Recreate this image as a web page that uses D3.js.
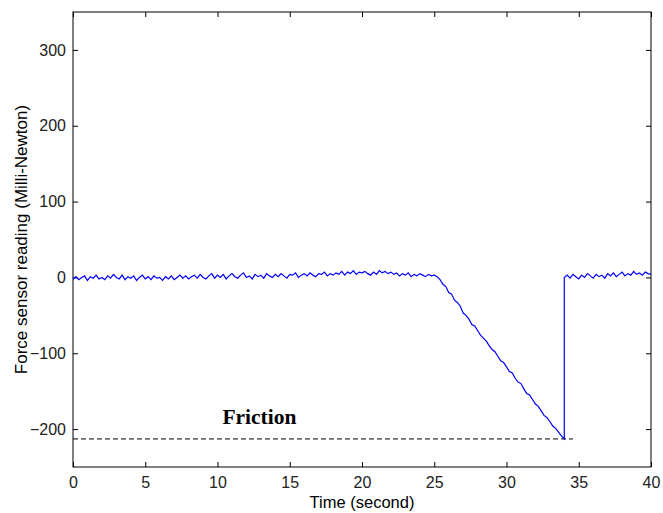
<!DOCTYPE html>
<html>
<head>
<meta charset="utf-8">
<script src="https://cdn.jsdelivr.net/npm/d3@7"></script>
<style>
  body { margin: 0; background: #fff; }
  .axis text { font-family: "Liberation Sans", Arial, sans-serif; font-size: 16px; fill: #222; }
  .axis path, .axis line { stroke: #000; }
</style>
</head>
<body>
<svg id="chart"></svg>
<script>
// sample step in seconds
const step = 0.2

// resting before push, t = 0 .. 25.2
const flat1Start = 0
const flat1 = [
  -2, 1, -3, 0, 2, -4, 1, -1, 3, -2, 0,
  -3, 2, -1, 4, 0, -2, 3, -3, 1, -1,
  2, -4, 0, 3, -2, 1, -3, 2, -1, 0,
  -4, 1, -2, 2, -3, 0, 3, -1, 2, -2,
  1, 3, -1, 4, 0, -2, 2, 5, -1, 3,
  0, 4, -2, 2, 5, 1, -1, 3, 6, 0,
  2, -2, 4, 1, 3, -1, 5, 2, 0, 4,
  1, 5, 2, -1, 4, 3, 6, 0, 3, 5,
  2, 6, 3, 1, 5, 4, 7, 2, 5, 3,
  6, 4, 8, 3, 7, 5, 9, 4, 7, 6,
  8, 5, 3, 7, 4, 9, 6, 8, 5, 7,
  4, 6, 2, 5, 3, 6, 1, 4, 2, 5,
  3, 1, 4, 2, 3, 1
]

// loading ramp, t = 25.4 .. 34.0
const rampStart = 25.4
const ramp = [
  -3, -9, -12, -20, -22, -30, -33, -38, -47, -50,
  -55, -62, -64, -70, -76, -80, -84, -90, -95, -98,
  -104, -110, -112, -118, -124, -126, -133, -138, -140, -147,
  -153, -155, -161, -167, -170, -176, -182, -185, -190, -196,
  -199, -204, -209, -213
]

// after slip, t = 34.0 .. 40.0
const flat2Start = 34.0
const flat2 = [
  0, 3, -1, 4, 1, -2, 3, 0, 5, 2,
  -1, 4, 1, 3, -1, 5, 2, 6, 1, 4,
  7, 2, 5, 3, 8, 4, 6, 3, 7, 5, 4
]

const frictionLevel = -213
const frictionEnd = 34.6

const xTicks = [0, 5, 10, 15, 20, 25, 30, 35, 40]
const yTicks = [-200, -100, 0, 100, 200, 300]

const W = 663, H = 513
const margin = {top: 12, right: 12, bottom: 46, left: 73}

const toPoints = (start, vals) => vals.map((v, i) => [start + i * step, v])
const series = [].concat(toPoints(flat1Start, flat1), toPoints(rampStart, ramp), toPoints(flat2Start, flat2))

const svg = d3.select('#chart').attr('width', W).attr('height', H)

const x = d3.scaleLinear().domain([0, 40]).range([margin.left, W - margin.right])
const y = d3.scaleLinear().domain([-250, 350]).range([H - margin.bottom, margin.top])

const tick = 5

// bottom axis
svg.append('g')
  .attr('class', 'axis')
  .attr('transform', `translate(0,${y(-250)})`)
  .call(d3.axisBottom(x).tickValues(xTicks).tickSizeInner(-tick).tickSizeOuter(0).tickPadding(10))
// top axis (ticks only)
svg.append('g')
  .attr('class', 'axis')
  .attr('transform', `translate(0,${y(350)})`)
  .call(d3.axisTop(x).tickValues(xTicks).tickSizeInner(-tick).tickSizeOuter(0).tickFormat(''))
// left axis
svg.append('g')
  .attr('class', 'axis')
  .attr('transform', `translate(${x(0)},0)`)
  .call(d3.axisLeft(y).tickValues(yTicks).tickSizeInner(-tick).tickSizeOuter(0).tickPadding(7))
// right axis (ticks only)
svg.append('g')
  .attr('class', 'axis')
  .attr('transform', `translate(${x(40)},0)`)
  .call(d3.axisRight(y).tickValues(yTicks).tickSizeInner(-tick).tickSizeOuter(0).tickFormat(''))

svg.selectAll('.axis .domain').remove()
svg.append('rect')
  .attr('x', x(0)).attr('y', y(350))
  .attr('width', x(40) - x(0)).attr('height', y(-250) - y(350))
  .attr('fill', 'none').attr('stroke', '#000').attr('stroke-width', 1)

// friction level
svg.append('line')
  .attr('x1', x(0)).attr('x2', x(frictionEnd))
  .attr('y1', y(frictionLevel)).attr('y2', y(frictionLevel))
  .attr('stroke', '#000').attr('stroke-width', 1)
  .attr('stroke-dasharray', '5,3')

svg.append('text')
  .attr('x', x(12.9)).attr('y', y(frictionLevel) - 15)
  .attr('text-anchor', 'middle')
  .style('font-family', '"Liberation Serif", "Times New Roman", serif')
  .style('font-weight', 'bold')
  .style('font-size', '21.5px')
  .text('Friction')

// sensor trace
const line = d3.line().x(d => x(d[0])).y(d => y(d[1]))
svg.append('path')
  .datum(series)
  .attr('d', line)
  .attr('fill', 'none')
  .attr('stroke', '#0000ff')
  .attr('stroke-width', 1.2)

// labels
svg.append('text')
  .attr('x', (x(0) + x(40)) / 2).attr('y', H - 5)
  .attr('text-anchor', 'middle')
  .style('font-family', '"Liberation Sans", Arial, sans-serif')
  .style('font-size', '16.5px')
  .text('Time (second)')

svg.append('text')
  .attr('transform', `translate(27,${(y(-250) + y(350)) / 2}) rotate(-90)`)
  .attr('text-anchor', 'middle')
  .style('font-family', '"Liberation Sans", Arial, sans-serif')
  .style('font-size', '17px')
  .text('Force sensor reading (Milli-Newton)')
</script>
</body>
</html>
